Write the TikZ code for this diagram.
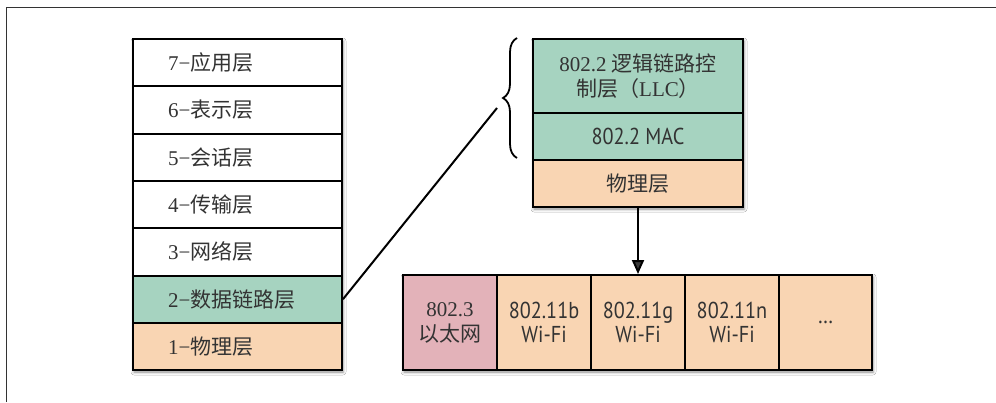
\documentclass[tikz,border=0pt]{standalone}
\usepackage{fontspec}
\setmainfont{Liberation Serif}
\newfontfamily\cjk{Noto Sans CJK SC}
\newfontfamily\cond[FakeStretch=0.88]{PT Sans}
\usetikzlibrary{arrows.meta,shadows.blur,decorations.pathreplacing}
\definecolor{llcgreen}{HTML}{A6D3C0}
\definecolor{phypeach}{HTML}{F9D5B3}
\definecolor{ethpink}{HTML}{E3B2B9}
\definecolor{txt}{HTML}{333333}
\definecolor{framegray}{HTML}{333333}
\begin{document}
\begin{tikzpicture}[x=1pt,y=-1pt,
  cellbase/.style={draw=black,line width=2pt,inner sep=0pt,anchor=north west,
    text=txt,align=center,font=\fontsize{21pt}{25pt}\selectfont},
  lcell/.style={cellbase,minimum width=209pt,minimum height=47.3pt},
  rcell/.style={cellbase,minimum width=210pt},
  bcell/.style={cellbase,minimum width=94pt,minimum height=95pt,fill=phypeach},
  lbl/.style={anchor=west,inner sep=0pt,text=txt,font=\fontsize{21pt}{25pt}\selectfont},
  sans/.style={font=\cond\fontsize{23pt}{24pt}\selectfont},
  stackshadow/.style={fill=white,blur shadow={shadow xshift=2pt,shadow yshift=-3pt,shadow blur radius=3pt,shadow opacity=45}}
]
\fill[white] (0,0) rectangle (996,402);
\useasboundingbox (0,0) rectangle (996,402);
\draw[framegray,line width=1pt] (6.5,402) -- (6.5,7.5) -- (996,7.5);

% left OSI stack
\path[stackshadow] (132,38) rectangle (341,369);
\node[lcell,fill=white] (l7) at (132,38) {};
\node[lcell,fill=white] (l6) at (132,85.3) {};
\node[lcell,fill=white] (l5) at (132,132.6) {};
\node[lcell,fill=white] (l4) at (132,179.9) {};
\node[lcell,fill=white] (l3) at (132,227.2) {};
\node[lcell,fill=llcgreen] (l2) at (132,274.5) {};
\node[lcell,fill=phypeach] (l1) at (132,321.8) {};
\node[lbl,xshift=36pt] (t7) at (l7.west) {7−{\cjk 应用层}};
\node[lbl,xshift=36pt] (t6) at (l6.west) {6−{\cjk 表示层}};
\node[lbl,xshift=36pt] (t5) at (l5.west) {5−{\cjk 会话层}};
\node[lbl,xshift=36pt] (t4) at (l4.west) {4−{\cjk 传输层}};
\node[lbl,xshift=36pt] (t3) at (l3.west) {3−{\cjk 网络层}};
\node[lbl,xshift=36pt] (t2) at (l2.west) {2−{\cjk 数据链路层}};
\node[lbl,xshift=36pt] (t1) at (l1.west) {1−{\cjk 物理层}};

% right 802 stack
\path[stackshadow] (532,38) rectangle (742,206);
\node[rcell,fill=llcgreen,minimum height=74pt] (llc) at (532,38)
  {802.2\ {\cjk 逻辑链路控}\\{\cjk 制层（}LLC{\cjk ）}};
\node[rcell,fill=llcgreen,minimum height=47pt,sans] (mac) at (532,112) {802.2 MAC};
\node[rcell,fill=phypeach,minimum height=47pt] (phy) at (532,159) {{\cjk 物理层}};

% brace and connector
\coordinate (bbot) at (517,158);
\coordinate (btop) at (517,38);
\coordinate (btip) at (497,108);
\draw[line width=1.8pt,decorate,decoration={brace,amplitude=14pt}] (bbot) -- (btop);
\draw[line width=2pt] (l2.east) -- (btip);

% bottom row
\path[stackshadow] (402,274) rectangle (871,369);
\node[bcell,fill=ethpink] (eth) at (402,274) {802.3\\{\cjk 以太网}};
\node[bcell,sans] (wb) at (496,274) {802.11b\\Wi-Fi};
\node[bcell,sans] (wg) at (590,274) {802.11g\\Wi-Fi};
\node[bcell,sans] (wn) at (684,274) {802.11n\\Wi-Fi};
\node[bcell,sans,minimum width=93pt] (more) at (778,274) {…};

\draw[line width=2pt,-{Triangle[width=12pt,length=14pt]}] (phy.south) -- (wg.north);
\end{tikzpicture}
\end{document}
